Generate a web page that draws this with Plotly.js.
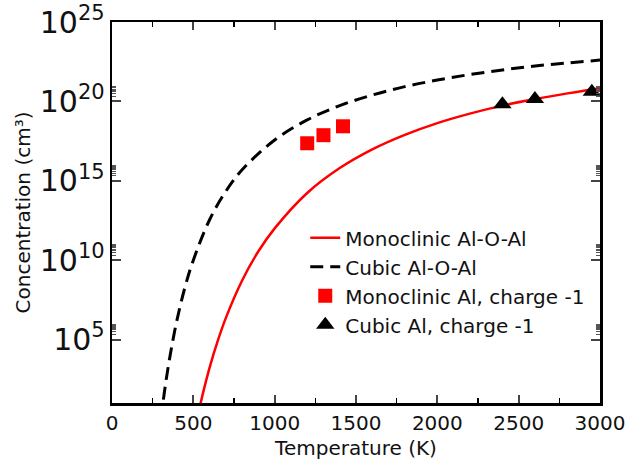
<!DOCTYPE html>
<html>
<head>
<meta charset="utf-8">
<script src="https://cdn.plot.ly/plotly-3.0.1.min.js"></script>
<style>html,body{margin:0;padding:0;background:#fff;}#chart{width:641px;height:466px;}</style>
</head>
<body>
<div id="chart"></div>
<script>
// Monoclinic Al-O-Al (red solid curve)
const monoT = [520, 560, 600, 650, 700, 800, 900, 1000, 1200, 1400, 1600, 1800, 2000, 2200, 2400, 2600, 2800, 3000];
const monoConc = [0.68, 45, 1.7e3, 8.1e4, 2.3e6, 5.2e8, 3.6e10, 1.0e12, 1.7e14, 6.3e15, 9.5e16, 7.8e17, 4.3e18, 1.7e19, 5.4e19, 1.4e20, 3.2e20, 6.8e20];
// Cubic Al-O-Al (black dashed curve)
const cubicT = [300, 330, 360, 400, 450, 500, 600, 700, 800, 1000, 1200, 1400, 1600, 1800, 2000, 2200, 2400, 2600, 2800, 3000];
const cubicConc = [0.9, 1.8e2, 1.4e4, 1.8e6, 2.2e8, 1.0e10, 3.5e12, 2.2e14, 4.9e15, 3.7e17, 6.8e18, 5.4e19, 2.5e20, 8.5e20, 2.2e21, 4.9e21, 9.5e21, 1.7e22, 2.6e22, 4.0e22];
// Monoclinic Al, charge -1 (red squares)
const monoAlT = [1200, 1300, 1420];
const monoAlConc = [2.3e17, 7.4e17, 2.7e18];
// Cubic Al, charge -1 (black triangles)
const cubicAlT = [2400, 2600, 2950];
const cubicAlConc = [6.6e19, 1.4e20, 4.0e20];

const xTickVals = [0, 500, 1000, 1500, 2000, 2500, 3000];
const yMinorMantissas = [2, 3, 4, 5, 6, 7, 8, 9];
const yMinorDecades = [5, 10, 15, 20];
const yMinorVals = [];
yMinorDecades.forEach(d => yMinorMantissas.forEach(m => yMinorVals.push(m * Math.pow(10, d))));

const FONT = 'DejaVu Sans, Verdana, sans-serif';
const TXT = '#111';

const traces = [
  {x: monoT, y: monoConc, name: 'Monoclinic Al-O-Al', mode: 'lines', type: 'scatter',
   line: {color: '#ff0000', width: 2.5, shape: 'spline'}},
  {x: cubicT, y: cubicConc, name: 'Cubic Al-O-Al', mode: 'lines', type: 'scatter',
   line: {color: '#000000', width: 3, dash: '13px,7px', shape: 'spline'}},
  {x: monoAlT, y: monoAlConc, name: 'Monoclinic Al, charge -1', mode: 'markers', type: 'scatter',
   marker: {symbol: 'square', color: '#ff0000', size: 14}},
  {x: cubicAlT, y: cubicAlConc, name: 'Cubic Al, charge -1', mode: 'markers', type: 'scatter',
   marker: {symbol: 'triangle-up', color: '#000000', size: 16}},
  {x: [1500], y: [1e10], yaxis: 'y2', mode: 'markers', marker: {opacity: 0}, showlegend: false, hoverinfo: 'skip'}
];

const layout = {
  width: 641, height: 466,
  margin: {l: 112, r: 41, t: 22, b: 63},
  paper_bgcolor: '#fff', plot_bgcolor: '#fff',
  font: {family: FONT, color: TXT, size: 20},
  showlegend: true,
  legend: {x: 0.396, y: 0.485, xanchor: 'left', yanchor: 'top', bgcolor: 'rgba(0,0,0,0)',
           font: {family: FONT, size: 20, color: TXT}, itemwidth: 30, tracegroupgap: 0},
  xaxis: {
    range: [0, 3000], tickvals: xTickVals, ticks: 'inside', ticklen: 8, tickwidth: 2,
    showline: true, linewidth: 2.5, linecolor: '#000', mirror: 'ticks', showgrid: false, zeroline: false,
    tickfont: {family: FONT, size: 20, color: TXT},
    minor: {dtick: 250, tick0: 0, ticks: 'inside', ticklen: 5, tickwidth: 1.5, tickcolor: '#000', showgrid: false},
    title: {text: 'Temperature (K)', font: {family: FONT, size: 20, color: TXT}, standoff: 8}
  },
  yaxis: {
    type: 'log', range: [1, 25], dtick: 5, exponentformat: 'power', ticks: 'inside', ticklen: 9, tickwidth: 2,
    showline: true, linewidth: 2.5, linecolor: '#000', mirror: 'ticks', showgrid: false, zeroline: false,
    tickfont: {family: FONT, size: 24, color: TXT},
    title: {text: 'Concentration (cm³)', font: {family: FONT, size: 20, color: TXT}, standoff: 4}
  },
  yaxis2: {
    type: 'log', range: [1, 25], overlaying: 'y', side: 'left', tickvals: yMinorVals,
    ticks: 'inside', ticklen: 4, tickwidth: 1, tickcolor: '#555', showticklabels: false,
    showline: true, linewidth: 2.5, linecolor: '#000', mirror: 'ticks', showgrid: false, zeroline: false
  }
};

Plotly.newPlot('chart', traces, layout, {staticPlot: true, displayModeBar: false});
</script>
</body>
</html>
